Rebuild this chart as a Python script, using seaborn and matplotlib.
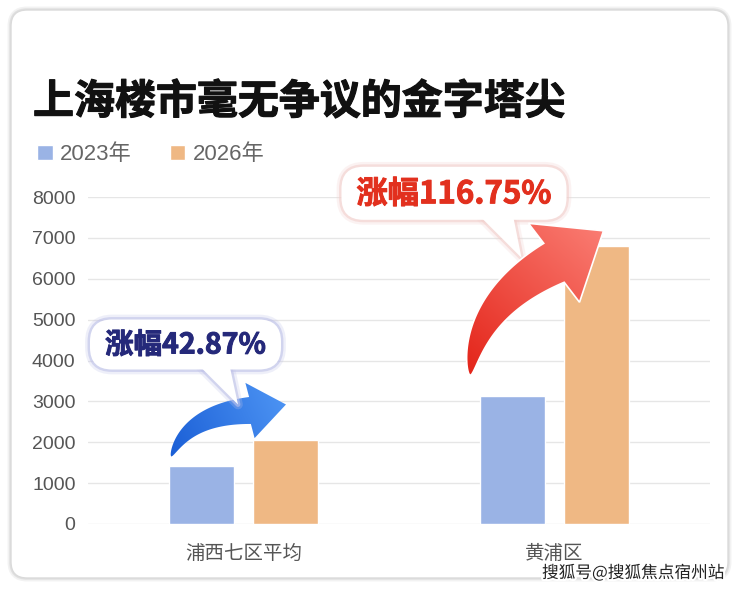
import numpy as np
import pandas as pd
import matplotlib
matplotlib.use("Agg")
import matplotlib.pyplot as plt
import seaborn as sns
from matplotlib.patches import FancyBboxPatch, Polygon
import matplotlib.patheffects as pe
from matplotlib.colors import LinearSegmentedColormap

# ---------------- data ----------------
title = "上海楼市毫无争议的金字塔尖"
categories = ["浦西七区平均", "黄浦区"]
years = ["2023年", "2026年"]
price_2023 = [1430, 3140]
price_2026 = [2043, 6806]
growth_labels = ["涨幅42.87%", "涨幅116.75%"]
yticks = [0, 1000, 2000, 3000, 4000, 5000, 6000, 7000, 8000]
watermark = "搜狐号@搜狐焦点宿州站"

BLUE = "#9AB3E5"
ORANGE = "#EFB884"

sns.set_theme(style="white")
plt.rcParams["font.family"] = ["Noto Sans CJK SC", "DejaVu Sans"]

W, H = 740, 589
fig = plt.figure(figsize=(W / 100, H / 100), dpi=100)
fig.patch.set_facecolor("white")

# background card
bg = fig.add_axes([0, 0, 1, 1], zorder=-1)
bg.set_xlim(0, W); bg.set_ylim(H, 0); bg.axis("off")
for lw, a in [(5, 0.25), (2.5, 0.5)]:
    bg.add_patch(FancyBboxPatch((11, 10), 717, 568, boxstyle="round,pad=0,rounding_size=16",
                                facecolor="none", edgecolor="#CFCFCF", lw=lw, alpha=a))
bg.add_patch(FancyBboxPatch((11, 10), 717, 568, boxstyle="round,pad=0,rounding_size=16",
                            facecolor="white", edgecolor="#DADADA", lw=1))

# main axes
ax = fig.add_axes([88 / W, 1 - 524 / H, 622 / W, 327 / H], zorder=0)
df = pd.DataFrame({
    "区域": categories * 2,
    "年份": [years[0]] * len(categories) + [years[1]] * len(categories),
    "价格": price_2023 + price_2026,
})
sns.barplot(data=df, x="区域", y="价格", hue="年份", palette=[BLUE, ORANGE],
            width=0.54, gap=0.23, saturation=1, errorbar=None, ax=ax)
handles, labels = ax.get_legend_handles_labels()
ax.get_legend().remove()
ax.set_facecolor("none")
ax.set_xlim(-0.5, 1.5)
ax.set_ylim(0, 8000)
ax.set_yticks(yticks)
ax.set_xlabel(""); ax.set_ylabel("")
for s in ax.spines.values():
    s.set_visible(False)
ax.yaxis.grid(True, color="#E6E6E6", lw=1)
ax.set_axisbelow(True)
ax.tick_params(axis="both", length=0, colors="#555555")
ax.tick_params(axis="y", labelsize=14, pad=9)
ax.tick_params(axis="x", labelsize=14, pad=14)
for t in ax.get_yticklabels():
    t.set_fontfamily(["Liberation Sans", "Noto Sans CJK SC"])

fig.legend(handles, labels, loc="center left", bbox_to_anchor=(37 / W, 1 - 155 / H), ncol=2,
           frameon=False, handlelength=0.7, handleheight=0.7, handletextpad=0.35,
           columnspacing=1.7, borderpad=0, borderaxespad=0, labelcolor="#666666",
           prop={"family": ["Liberation Sans", "Noto Sans CJK SC"], "size": 16})

fig.text(33 / W, 1 - 102 / H, title, fontsize=29.5, fontweight="bold", color="#111111",
         ha="left", va="center",
         path_effects=[pe.withStroke(linewidth=0.8, foreground="#111111")])

# overlay for arrows and callouts (pixel coordinates, y down)
ov = fig.add_axes([0, 0, 1, 1], zorder=5)
ov.set_xlim(0, W); ov.set_ylim(H, 0); ov.axis("off")
ov.patch.set_alpha(0)


def to_px(x, y):
    d = ax.transData.transform((x, y))
    return np.array([d[0], H - d[1]])


bars = sorted([p for p in ax.patches if p.get_height() > 0], key=lambda p: p.get_x())
info = []
for p in bars:
    left = to_px(p.get_x(), p.get_height())
    right = to_px(p.get_x() + p.get_width(), p.get_height())
    info.append(dict(left=left[0], right=right[0], cx=(left[0] + right[0]) / 2, top=left[1]))


def curved_arrow(tail, ctrl, base, tip, body_w, head_hw, c0, c1, z, edge=None):
    tail, ctrl, base, tip = map(np.asarray, (tail, ctrl, base, tip))
    t = np.linspace(0, 1, 80)[:, None]
    B = (1 - t) ** 2 * tail + 2 * (1 - t) * t * ctrl + t ** 2 * base
    dB = 2 * (1 - t) * (ctrl - tail) + 2 * t * (base - ctrl)
    n = np.column_stack([-dB[:, 1], dB[:, 0]])
    n /= np.linalg.norm(n, axis=1)[:, None]
    w = body_w / 2 * (t ** 0.6)
    side1 = B + n * w
    side2 = B - n * w
    d = (tip - base) / np.linalg.norm(tip - base)
    nb = np.array([-d[1], d[0]])
    if np.dot(nb, n[-1]) < 0:
        nb = -nb
    c_a = base + nb * head_hw
    c_b = base - nb * head_hw
    pts = np.vstack([side1, c_a, tip, c_b, side2[::-1]])
    poly = Polygon(pts, closed=True, facecolor="none", edgecolor="none", transform=ov.transData)
    ov.add_patch(poly)
    xmin, ymin = pts.min(axis=0) - 2
    xmax, ymax = pts.max(axis=0) + 2
    xs = np.linspace(xmin, xmax, 200)
    ys = np.linspace(ymin, ymax, 200)
    X, Y = np.meshgrid(xs, ys)
    dd = tip - tail
    L = np.linalg.norm(dd)
    Z = ((X - tail[0]) * dd[0] + (Y - tail[1]) * dd[1]) / L ** 2
    cm = LinearSegmentedColormap.from_list("g", [c0, c1])
    im = ov.imshow(np.clip(Z, 0, 1), extent=(xmin, xmax, ymax, ymin), origin="upper",
                   cmap=cm, vmin=0, vmax=1, aspect="auto", interpolation="bilinear", zorder=z)
    im.set_clip_path(poly)
    if edge is not None:
        ov.add_patch(Polygon(pts, closed=True, facecolor="none", edgecolor=edge, lw=1.2, zorder=z + 0.1))


def bubble(x0, y0, x1, y1, tail_pts, text, color, shadow, z, size):
    box_kw = dict(boxstyle="round,pad=0,rounding_size=22")
    for lw, a in [(7, 0.25), (3.5, 0.6)]:
        ov.add_patch(FancyBboxPatch((x0, y0), x1 - x0, y1 - y0, facecolor="none", edgecolor=shadow,
                                    lw=lw, alpha=a, zorder=z, **box_kw))
        ov.add_patch(Polygon(tail_pts, closed=True, facecolor="none", edgecolor=shadow, lw=lw,
                             alpha=a, zorder=z, joinstyle="round"))
    ov.add_patch(FancyBboxPatch((x0, y0), x1 - x0, y1 - y0, facecolor="white", edgecolor="none",
                                zorder=z + 0.1, **box_kw))
    ov.add_patch(Polygon(tail_pts, closed=True, facecolor="white", edgecolor="none", zorder=z + 0.1))
    ov.text((x0 + x1) / 2, (y0 + y1) / 2 + 1, text, color=color, fontsize=size, fontweight="heavy",
            ha="center", va="center", zorder=z + 0.2,
            path_effects=[pe.withStroke(linewidth=0.7, foreground=color)])


# blue arrow (group 1)
b23, b26 = info[0], info[1]
tail = np.array([b23["left"] + 2, b23["top"] - 9])
tip = np.array([b26["cx"] + 0.5, b26["top"] - 36])
base = tip - np.array([36, -6])
ctrl = tail + np.array([17, -42])
curved_arrow(tail, ctrl, base, tip, 27, 28, "#1B5FD6", "#4C93F3", z=3)
bubble(tip[0] - 196, tip[1] - 85, tip[0] - 5, tip[1] - 35,
       [(tip[0] - 85, tip[1] - 37), (tip[0] - 56, tip[1] - 37), (tip[0] - 48, tip[1])],
       growth_labels[0], "#25297A", "#BFC2E8", z=4, size=20.5)

# red arrow (group 2)
r23, r26 = info[2], info[3]
tail = np.array([r23["left"] - 10, r23["top"] - 20])
tip = np.array([r26["cx"] + 7, r26["top"] - 15])
base = tip - np.array([49.5, -32])
ctrl = tail + np.array([6, -72])
bubble(tip[0] - 262, tip[1] - 64, tip[0] - 37, tip[1] - 11,
       [(tip[0] - 122, tip[1] - 13), (tip[0] - 90, tip[1] - 13), (tip[0] - 82, tip[1] + 27)],
       growth_labels[1], "#E2301E", "#F2CFCC", z=3, size=22.5)
curved_arrow(tail, ctrl, base, tip, 44, 47, "#E4251A", "#FA7C72", z=4, edge="white")

fig.text(724 / W, 1 - 573 / H, watermark, ha="right", va="center", fontsize=12, color="#222222",
         zorder=10, path_effects=[pe.withStroke(linewidth=3, foreground="white")])

fig.savefig("out.png", dpi=100)
